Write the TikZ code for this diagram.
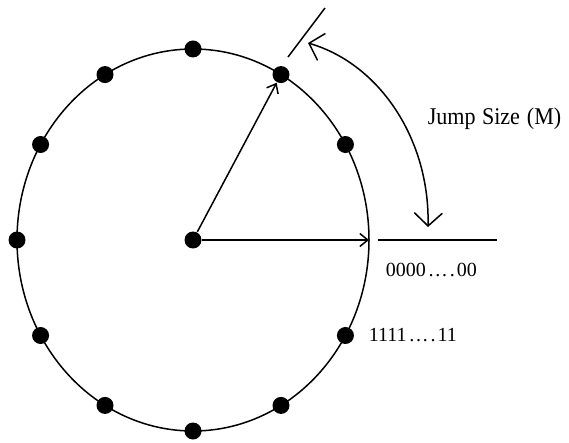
\documentclass[tikz,border=0pt]{standalone}
\usepackage{fontspec}
\usepackage{graphicx}
\setmainfont{Liberation Serif}
\usetikzlibrary{arrows.meta}
\begin{document}
\begin{tikzpicture}[x=1pt,y=-1pt, line width=1.5pt,
  dot/.style={circle,fill=black,inner sep=0pt,minimum size=17pt},
  lbl/.style={anchor=base west,inner sep=0pt},
  small tip/.style={-{Straight Barb[length=8pt,width=13pt]}},
  big tips/.style={{Straight Barb[length=13pt,width=28pt]}-{Straight Barb[length=13pt,width=28pt]}},
  numfont/.style={font=\fontsize{20}{23}\selectfont}]
\useasboundingbox (0,0) rectangle (569,443);
% ring
\draw (193,240) ellipse [x radius=176pt, y radius=191pt];
% dots on the ring
\foreach \a in {30,60,...,330}
  \node[dot] (d\a) at ({193+176*cos(\a)}, {240-191*sin(\a)}) {};
\node[dot] (c) at (193,240) {};
\coordinate (e0) at (369,240);
% radial arrows
\draw[small tip] (c) -- (e0);
\draw[small tip] (c) -- (d60);
% tick lines
\coordinate (t0a) at (378,240);
\coordinate (t0b) at (497,240);
\draw (t0a) -- (t0b);
\coordinate (t1a) at (288,57);
\coordinate (t1b) at (325,8);
\draw (t1a) -- (t1b);
% jump arrow
\coordinate (ja) at (308,43);
\coordinate (jb) at (428,227);
\draw[big tips] (ja) .. controls (380,64) and (430,140) .. (jb);
% labels
\node[lbl] (jl) at (427,125) {\fontsize{24}{28}\selectfont\scalebox{0.92}[1]{Jump\kern1pt{} Size\kern1.5pt{} (M)}};
\node[lbl,numfont] (zl) at (385,276) {0000\kern2pt…\kern2pt.\kern2pt00};
\node[lbl,numfont] (ol) at (368,341) {1111\kern2pt…\kern2pt.\kern2pt11};
\end{tikzpicture}
\end{document}
